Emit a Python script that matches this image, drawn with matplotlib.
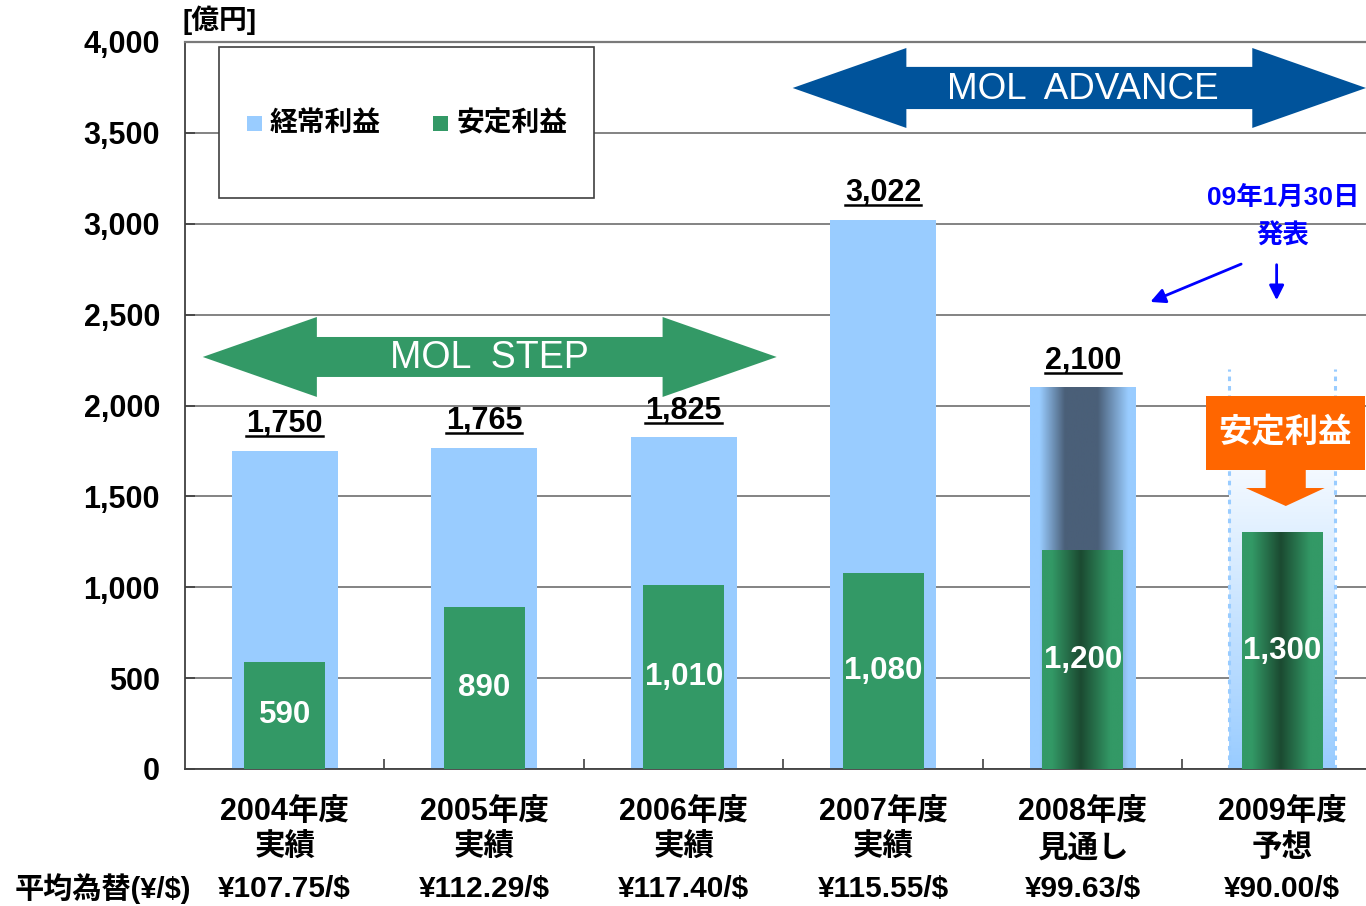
import numpy as np
import matplotlib
matplotlib.use('Agg')
import matplotlib.pyplot as plt
from matplotlib.patches import Polygon, Rectangle
from matplotlib.colors import to_rgb

plt.rcParams['font.family'] = ['Liberation Sans', 'Noto Sans CJK JP']
plt.rcParams['font.weight'] = 'bold'

# --- data -------------------------------------------------------------
years = ['2004年度', '2005年度', '2006年度', '2007年度', '2008年度', '2009年度']
status = ['実績', '実績', '実績', '実績', '見通し', '予想']
fx_rates = ['¥107.75/$', '¥112.29/$', '¥117.40/$', '¥115.55/$', '¥99.63/$', '¥90.00/$']
ordinary_profit = [1750, 1765, 1825, 3022, 2100, np.nan]   # 経常利益
stable_profit = [590, 890, 1010, 1080, 1200, 1300]         # 安定利益
shaded = [False, False, False, False, True, True]          # outlook / forecast bars
yticks = [0, 500, 1000, 1500, 2000, 2500, 3000, 3500, 4000]
ytick_labels = ['0', '500', '1,000', '1,500', '2,000', '2,500', '3,000', '3,500', '4,000']

LIGHT_BLUE = '#99ccff'
GREEN = '#339966'
DARK_GREEN = '#1b4a31'
SLATE = '#4a5f78'
NAVY = '#00539b'
ORANGE = '#ff6600'

W, H = 1366, 906
fig = plt.figure(figsize=(W / 100, H / 100), dpi=100)
fig.patch.set_facecolor('white')
ax = fig.add_axes([185 / W, 1 - 769 / H, (W - 185) / W, 727 / H])

x = np.arange(len(years))
blue_w, green_w = 0.53, 0.405
XLIM = (-0.5, 5.42)
YLIM = (0, 4000)


def hgrad(x0, x1, y0, y1, stops, z):
    """horizontal colour gradient painted into a data rectangle"""
    t = np.linspace(0, 1, 256)
    pos = [p for p, _ in stops]
    cols = np.array([to_rgb(c) for _, c in stops])
    img = np.stack([np.interp(t, pos, cols[:, k]) for k in range(3)], axis=-1)[None]
    ax.imshow(img, extent=[x0, x1, y0, y1], aspect='auto', zorder=z,
              interpolation='bilinear')


def double_arrow(xl, xr, yc, body, head, head_len, color):
    pts = [(xl, yc), (xl + head_len, yc + head), (xl + head_len, yc + body),
           (xr - head_len, yc + body), (xr - head_len, yc + head), (xr, yc),
           (xr - head_len, yc - head), (xr - head_len, yc - body),
           (xl + head_len, yc - body), (xl + head_len, yc - head)]
    ax.add_patch(Polygon(pts, closed=True, facecolor=color, edgecolor='none',
                         zorder=6, clip_on=False))


# forecast backdrop for 2009 (opaque white -> light blue, dotted sides)
fc = shaded.index(True) + 1
top_bg = 2200
ys = np.linspace(0, top_bg, 200)
a = np.clip(1 - ys / 1850, 0, 1)[:, None]
bg = (1 - a) * np.array([1, 1, 1]) + a * np.array(to_rgb(LIGHT_BLUE))
ax.imshow(bg[:, None, :], extent=[fc - blue_w / 2, fc + blue_w / 2, 0, top_bg],
          origin='lower', aspect='auto', zorder=1, interpolation='bilinear')
for xe in (fc - blue_w / 2, fc + blue_w / 2):
    ax.plot([xe, xe], [0, top_bg], color=LIGHT_BLUE, lw=2.2,
            linestyle=(0, (1.5, 1.6)), zorder=1.2)

# bars
ax.bar(x, ordinary_profit, width=blue_w, color=LIGHT_BLUE, zorder=2)
ax.bar(x, stable_profit, width=green_w, color=GREEN, zorder=3)

for i in x:
    if not shaded[i]:
        continue
    if not np.isnan(ordinary_profit[i]):
        hgrad(i - blue_w / 2, i + blue_w / 2, 0, ordinary_profit[i],
              [(0, LIGHT_BLUE), (0.09, LIGHT_BLUE), (0.33, SLATE), (0.64, SLATE),
               (0.93, LIGHT_BLUE), (1, LIGHT_BLUE)], 2.5)
    hgrad(i - green_w / 2, i + green_w / 2, 0, stable_profit[i],
          [(0, GREEN), (0.12, GREEN), (0.48, DARK_GREEN), (0.85, GREEN), (1, GREEN)], 3.5)

# value labels
top_labels = []
for i in x:
    v = ordinary_profit[i]
    if not np.isnan(v):
        t = ax.annotate(f'{v:,.0f}', (i, v), xytext=(0, 13.5), textcoords='offset points',
                        ha='center', va='baseline', fontsize=22, color='black', zorder=7)
        top_labels.append(t)
    ax.text(i, stable_profit[i] / 2, f'{stable_profit[i]:,}', ha='center', va='center',
            fontsize=22.5, color='white', zorder=7)

# axes styling
ax.set_xlim(*XLIM)
ax.set_ylim(*YLIM)
ax.set_yticks(yticks)
ax.set_yticklabels(ytick_labels, fontsize=22)
ax.tick_params(axis='y', direction='in', length=7, width=1.2, color='#404040', pad=18)
ax.set_xticks([])
ax.set_xticks(x[:-1] + 0.5, minor=True)
ax.tick_params(axis='x', which='minor', direction='in', length=7.5, width=1.2, color='#404040')
ax.yaxis.grid(True, color='#7a7a7a', lw=1.3, zorder=0.5)
ax.set_axisbelow(True)
for s in ('left', 'bottom'):
    ax.spines[s].set_color('#404040')
    ax.spines[s].set_linewidth(1.3)
ax.spines['top'].set_color('#7a7a7a')
ax.spines['top'].set_linewidth(1.6)
ax.spines['right'].set_visible(False)

# category labels and exchange rates under the axis
for i in x:
    ax.text(i, -0.059, years[i], transform=ax.get_xaxis_transform(), ha='center',
            va='center', fontsize=22)
    ax.text(i, -0.109, status[i], transform=ax.get_xaxis_transform(), ha='center',
            va='center', fontsize=22)
    ax.text(i, -0.165, fx_rates[i], transform=ax.get_xaxis_transform(), ha='center',
            va='center', fontsize=21.5)
fig.text(15 / W, 1 - 889 / H, '平均為替(¥/$)', ha='left', va='center', fontsize=21)
fig.text(183 / W, 1 - 20 / H, '[億円]', ha='left', va='center', fontsize=20)

# legend box
fig.patches.append(Rectangle((219 / W, 1 - 198 / H), 375 / W, 151 / H,
                             transform=fig.transFigure, facecolor='white',
                             edgecolor='#404040', lw=1.2, zorder=5))
for xs, col, lab in [(247, LIGHT_BLUE, '経常利益'), (433, GREEN, '安定利益')]:
    fig.patches.append(Rectangle((xs / W, 1 - 131 / H), 15 / W, 15 / H,
                                 transform=fig.transFigure, facecolor=col,
                                 edgecolor='none', zorder=6))
    fig.text((xs + 23) / W, 1 - 124 / H, lab, ha='left', va='center', fontsize=20, zorder=6)

# program arrows
double_arrow(-0.411, 2.466, 2267, 110, 220, 0.572, GREEN)
ax.text(1.028, 2262, 'MOL  STEP', ha='center', va='center', color='white',
        fontsize=27, fontweight='normal', zorder=7)
double_arrow(2.546, 5.42, 3747, 116, 220, 0.57, NAVY)
ax.text(4.0, 3738, 'MOL  ADVANCE', ha='center', va='center', color='white',
        fontsize=26.5, fontweight='normal', zorder=7)

# orange call-out over the 2009 forecast
ax.add_patch(Rectangle((4.617, 1645), 0.797, 407, facecolor=ORANGE, edgecolor='none',
                       zorder=8, clip_on=False))
ax.text(5.015, 1850, '安定利益', ha='center', va='center', color='white', fontsize=24, zorder=9)
ax.add_patch(Polygon([(4.917, 1646), (5.118, 1646), (5.118, 1546), (5.213, 1546),
                      (5.018, 1447), (4.817, 1546), (4.917, 1546)], closed=True,
                     facecolor=ORANGE, edgecolor='none', zorder=8))

# announcement note
ax.text(5.003, 3142, '09年1月30日', ha='center', va='center', color='#0000ff',
        fontsize=19, zorder=7, clip_on=False)
ax.text(5.003, 2933, '発表', ha='center', va='center', color='#0000ff', fontsize=19, zorder=7)
arrow_kw = dict(arrowstyle='-|>', color='#0000ff', lw=2, mutation_scale=22)
ax.annotate('', xy=(4.326, 2564), xytext=(4.807, 2784), arrowprops=arrow_kw, zorder=7)
ax.annotate('', xy=(4.972, 2564), xytext=(4.972, 2790), arrowprops=arrow_kw, zorder=7)

# underline the ordinary-profit totals
fig.canvas.draw()
renderer = fig.canvas.get_renderer()
inv = fig.transFigure.inverted()
for t in top_labels:
    bb = t.get_window_extent(renderer)
    (x0, y0), (x1, _) = inv.transform([(bb.x0, bb.y0 + 3), (bb.x1, bb.y0 + 3)])
    fig.add_artist(plt.Line2D([x0, x1], [y0, y0], transform=fig.transFigure,
                              color='black', lw=1.8))

fig.savefig('out.png', dpi=100, facecolor='white')
